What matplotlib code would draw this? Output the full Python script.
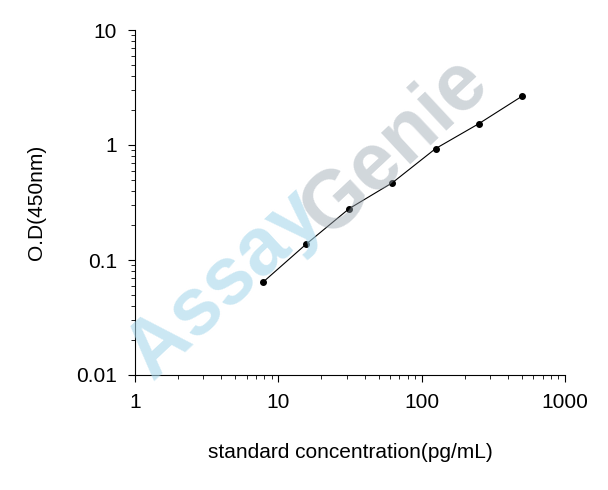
import matplotlib.pyplot as plt

# standard curve values
conc = [7.8, 15.6, 31.25, 62.5, 125, 250, 500]
od = [0.064, 0.137, 0.28, 0.47, 0.93, 1.53, 2.65]

plt.rcParams["font.family"] = ["Liberation Sans", "DejaVu Sans"]

fig = plt.figure(figsize=(6.08, 4.90), dpi=100)
ax = fig.add_axes([135 / 608, 115 / 490, 430 / 608, 345 / 490])

# watermark
fig.text(0.37, 0.42, "Assay", fontsize=58, fontweight="bold", color="#a8d8ec",
         alpha=0.6, rotation=43, ha="center", va="center")
fig.text(0.65, 0.70, "Genie", fontsize=58, fontweight="bold", color="#9aa6b0",
         alpha=0.45, rotation=43, ha="center", va="center")

ax.plot(conc, od, color="black", lw=0.8, marker="o", ms=4)
ax.set_xscale("log")
ax.set_yscale("log")
ax.set_xlim(1, 1000)
ax.set_ylim(0.01, 10)
ax.set_xticks([1, 10, 100, 1000], ["1", "10", "100", "1000"])
ax.set_yticks([0.01, 0.1, 1, 10], ["0.01", "0.1", "1", "10"])
ax.tick_params(labelsize=15, direction="out", length=5, pad=8)
ax.tick_params(which="minor", direction="out", length=3)
for s in ["top", "right"]:
    ax.spines[s].set_visible(False)
ax.set_xlabel("standard concentration(pg/mL)", fontsize=15, labelpad=22)
ax.set_ylabel("O.D(450nm)", fontsize=15, labelpad=22)

fig.savefig("out.png", dpi=100)
